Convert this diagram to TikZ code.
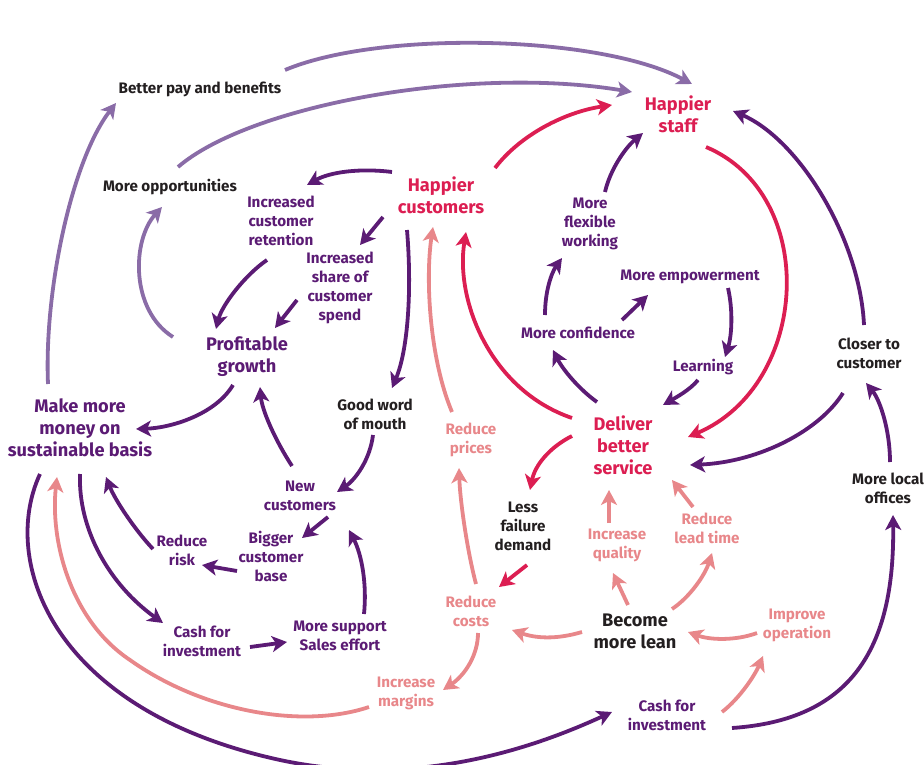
\documentclass[tikz,border=0pt]{standalone}
\usepackage{fontspec}
\setmainfont{Fira Sans}
\usetikzlibrary{arrows.meta}
\definecolor{dp}{HTML}{5B1B74}
\definecolor{lp}{HTML}{8A6CA7}
\definecolor{cr}{HTML}{DC1E52}
\definecolor{sa}{HTML}{E8878A}
\definecolor{bk}{HTML}{231F20}
\begin{document}
\begin{tikzpicture}[x=1pt,y=-1pt,
 txt/.style={font=\fontsize{15.2}{19}\selectfont\bfseries,align=center,inner sep=0pt},
 big/.style={font=\fontsize{18.2}{22}\selectfont\bfseries,align=center,inner sep=0pt},
 arr/.style={line width=3.8pt,-{Stealth[length=15pt,width=16pt,inset=4pt]}},
]
\useasboundingbox (0,0) rectangle (924,765);
% nodes
\node[txt,bk] (bp) at (200,89) {Better pay and benefits};
\node[txt,bk] (mo) at (170,187) {More opportunities};
\node[big,cr] (hs) at (678,114) {Happier\\staff};
\node[big,cr] (hc) at (441,195) {Happier\\customers};
\node[txt,dp] (icr) at (281,221) {Increased\\customer\\retention};
\node[txt,dp] (isc) at (340,288) {Increased\\share of\\customer\\spend};
\node[txt,dp] (mfw) at (590,224) {More\\flexible\\working};
\node[txt,dp] (me) at (690,277) {More empowerment};
\node[txt,dp] (mc) at (578,333) {More confidence};
\node[txt,dp] (le) at (703,367) {Learning};
\node[big,dp] (pg) at (247,357) {Profitable\\growth};
\node[txt,bk] (cc) at (869,353) {Closer to\\customer};
\node[txt,bk] (gw) at (375,414) {Good word\\of mouth};
\node[big,dp] (mm) at (80,428) {Make more\\money on\\sustainable basis};
\node[txt,sa] (rp) at (471,440) {Reduce\\prices};
\node[big,cr] (db) at (623,445) {Deliver\\better\\service};
\node[txt,bk] (mlo) at (888,488) {More local\\offices};
\node[txt,dp] (nc) at (300,496) {New\\customers};
\node[txt,bk] (lf) at (523,526) {Less\\failure\\demand};
\node[txt,dp] (rr) at (182,550) {Reduce\\risk};
\node[txt,dp] (bc) at (271,556) {Bigger\\customer\\base};
\node[txt,sa] (iq) at (617,545) {Increase\\quality};
\node[txt,sa] (rl) at (707,528) {Reduce\\lead time};
\node[txt,sa] (rc) at (471,611) {Reduce\\costs};
\node[big,bk] (bl) at (635,631) {Become\\more lean};
\node[txt,sa] (io) at (797,625) {Improve\\operation};
\node[txt,dp] (ci1) at (202,641) {Cash for\\investment};
\node[txt,dp] (ms) at (340,636) {More support\\Sales effort};
\node[txt,sa] (im) at (406,693) {Increase\\margins};
\node[txt,dp] (ci2) at (667,715) {Cash for\\investment};
% light purple arrows
\draw[arr,lp] ([shift={(-32,-44)}]mm.center) .. controls (44,290) and (72,160) .. ([shift={(-84,14)}]bp.center);
\draw[arr,lp] ([shift={(8,-20)}]mo.center) .. controls (250,105) and (470,65) .. ([shift={(-46,-22)}]hs.center);
\draw[arr,lp] ([shift={(85,-19)}]bp.center) .. controls (380,30) and (600,35) .. ([shift={(14,-30)}]hs.center);
\draw[arr,lp] ([shift={(-74,-20)}]pg.center) .. controls (130,310) and (132,240) .. ([shift={(-8,20)}]mo.center);
% dark purple arrows, upper left
\draw[arr,dp] ([shift={(-49,-23)}]hc.center) .. controls (360,168) and (330,172) .. ([shift={(26,-36)}]icr.center);
\draw[arr,dp] ([shift={(-58,22)}]hc.center) -- ([shift={(20,-43)}]isc.center);
\draw[arr,dp] ([shift={(-14,39)}]icr.center) .. controls (245,275) and (222,305) .. ([shift={(-31,-28)}]pg.center);
\draw[arr,dp] ([shift={(-43,12)}]isc.center) -- ([shift={(28,-29)}]pg.center);
\draw[arr,dp] ([shift={(-34,35)}]hc.center) .. controls (412,290) and (408,350) .. ([shift={(17,-26)}]gw.center);
% salmon to happier customers
\draw[arr,sa] ([shift={(-19,-28)}]rp.center) .. controls (430,360) and (425,280) .. ([shift={(-8,32)}]hc.center);
% crimson / upper right
\draw[arr,cr] ([shift={(54,-27)}]hc.center) .. controls (520,135) and (565,112) .. ([shift={(-66,-9)}]hs.center);
\draw[arr,dp] ([shift={(15,-32)}]mfw.center) .. controls (610,170) and (625,148) .. ([shift={(-35,19)}]hs.center);
\draw[arr,cr] ([shift={(28,33)}]hs.center) .. controls (820,195) and (810,385) .. ([shift={(65,-8)}]db.center);
\draw[arr,dp] ([shift={(-5,-28)}]cc.center) .. controls (860,240) and (800,140) .. ([shift={(55,-3)}]hs.center);
\draw[arr,dp] ([shift={(-33,-18)}]mc.center) .. controls (545,290) and (552,272) .. ([shift={(-28,34)}]mfw.center);
\draw[arr,dp] ([shift={(44,-13)}]mc.center) -- ([shift={(-42,18)}]me.center);
\draw[arr,dp] ([shift={(38,11)}]me.center) .. controls (733,310) and (732,335) .. ([shift={(22,-10)}]le.center);
\draw[arr,dp] ([shift={(-5,13)}]le.center) .. controls (690,390) and (675,398) .. ([shift={(40,-40)}]db.center);
\draw[arr,cr] ([shift={(-51,-27)}]db.center) .. controls (490,390) and (455,300) .. ([shift={(25,37)}]hc.center);
\draw[arr,dp] ([shift={(-26,-43)}]db.center) .. controls (580,390) and (563,370) .. ([shift={(-25,17)}]mc.center);
% around deliver
\draw[arr,cr] ([shift={(-51,-9)}]db.center) .. controls (550,447) and (535,465) .. ([shift={(7,-36)}]lf.center);
\draw[arr,dp] ([shift={(-26,40)}]cc.center) .. controls (820,430) and (760,462) .. ([shift={(67,20)}]db.center);
\draw[arr,dp] ([shift={(2,-26)}]mlo.center) .. controls (890,430) and (880,400) .. ([shift={(-3,30)}]cc.center);
\draw[arr,cr] ([shift={(4,39)}]lf.center) -- ([shift={(28,-24)}]rc.center);
\draw[arr,sa] ([shift={(-8,-22)}]iq.center) -- ([shift={(-14,45)}]db.center);
\draw[arr,sa] ([shift={(-14,-21)}]rl.center) -- ([shift={(49,35)}]db.center);
\draw[arr,sa] ([shift={(-7,-26)}]bl.center) -- ([shift={(-4,28)}]iq.center);
\draw[arr,sa] ([shift={(37,-22)}]bl.center) .. controls (690,597) and (705,575) .. ([shift={(5,25)}]rl.center);
\draw[arr,sa] ([shift={(-53,1)}]bl.center) .. controls (555,640) and (535,638) .. ([shift={(41,19)}]rc.center);
\draw[arr,sa] ([shift={(-40,8)}]io.center) .. controls (735,641) and (710,640) .. ([shift={(53,1)}]bl.center);
\draw[arr,sa] ([shift={(55,-3)}]ci2.center) .. controls (740,698) and (755,675) .. ([shift={(-34,31)}]io.center);
\draw[arr,dp] ([shift={(65,13)}]ci2.center) .. controls (850,720) and (895,650) .. ([shift={(5,27)}]mlo.center);
\draw[arr,sa] ([shift={(5,-27)}]rc.center) .. controls (467,550) and (460,500) .. ([shift={(-12,28)}]rp.center);
\draw[arr,sa] ([shift={(7,22)}]rc.center) .. controls (478,655) and (465,675) .. ([shift={(37,-3)}]im.center);
% bottom left
\draw[arr,dp] ([shift={(-40,46)}]mm.center) .. controls (0,560) and (50,710) .. (280,760) .. controls (420,790) and (540,745) .. ([shift={(-55,-3)}]ci2.center);
\draw[arr,dp] ([shift={(-14,28)}]pg.center) .. controls (215,415) and (170,428) .. ([shift={(56,1)}]mm.center);
\draw[arr,dp] ([shift={(-8,-30)}]nc.center) .. controls (275,440) and (262,410) .. ([shift={(13,30)}]pg.center);
\draw[arr,dp] ([shift={(-2,21)}]gw.center) .. controls (370,460) and (355,480) .. ([shift={(37,-4)}]nc.center);
\draw[arr,dp] ([shift={(28,21)}]nc.center) -- ([shift={(31,-18)}]bc.center);
\draw[arr,dp] ([shift={(-34,15)}]bc.center) -- ([shift={(20,15)}]rr.center);
\draw[arr,dp] ([shift={(-29,-1)}]rr.center) .. controls (135,530) and (115,500) .. ([shift={(26,49)}]mm.center);
\draw[arr,dp] ([shift={(0,46)}]mm.center) .. controls (78,530) and (110,585) .. ([shift={(-39,-18)}]ci1.center);
\draw[arr,dp] ([shift={(48,6)}]ci1.center) -- ([shift={(-53,6)}]ms.center);
\draw[arr,dp] ([shift={(24,-22)}]ms.center) .. controls (367,585) and (362,555) .. ([shift={(49,34)}]nc.center);
\draw[arr,sa] ([shift={(-37,14)}]im.center) .. controls (300,730) and (200,710) .. (130,660) .. controls (70,620) and (50,540) .. ([shift={(-23,49)}]mm.center);
\end{tikzpicture}
\end{document}
